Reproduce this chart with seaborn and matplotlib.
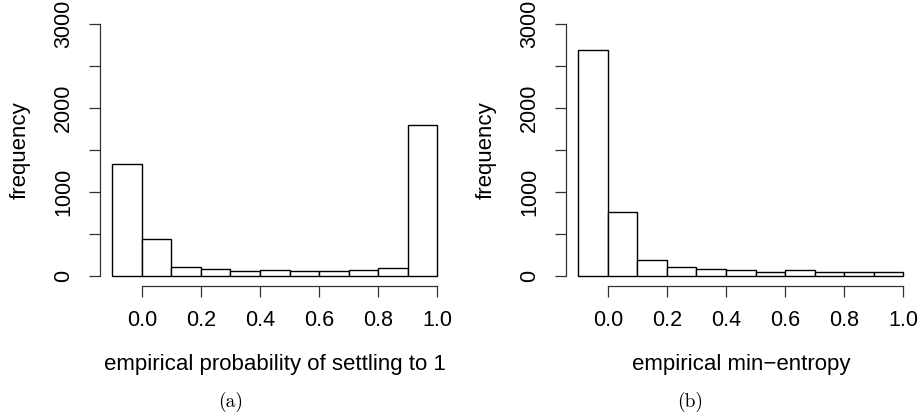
import matplotlib
matplotlib.use("Agg")
import matplotlib.pyplot as plt
import numpy as np
import seaborn as sns

# bin edges shared by both histograms
bin_edges = [-0.1, 0.0, 0.1, 0.2, 0.3, 0.4, 0.5, 0.6, 0.7, 0.8, 0.9, 1.0]

# counts
settle_counts = [1330, 435, 107, 79, 56, 67, 56, 56, 67, 95, 1795]
entropy_counts = [2690, 758, 190, 103, 83, 71, 44, 67, 52, 48, 44]

xlabels = ["empirical probability of settling to 1", "empirical min\u2212entropy"]
captions = ["(a)", "(b)"]
xticks = [0.0, 0.2, 0.4, 0.6, 0.8, 1.0]
yticks_major = [0, 1000, 2000, 3000]
yticks_minor = [500, 1500, 2500]

W, H = 921, 419


def draw_panel(ax, counts, xlabel):
    centers = (np.array(bin_edges[:-1]) + np.array(bin_edges[1:])) / 2
    sns.histplot(x=centers, weights=counts, bins=bin_edges, ax=ax,
                 color="white", edgecolor="black", linewidth=1.0, alpha=1)
    ax.set_xlim(-0.144, 1.044)
    ax.set_ylim(-120, 3120)
    for side in ["top", "right"]:
        ax.spines[side].set_visible(False)
    ax.spines["left"].set_bounds(0, 3000)
    ax.spines["bottom"].set_bounds(0, 1)
    for side in ["left", "bottom"]:
        ax.spines[side].set_color("#333333")
        ax.spines[side].set_linewidth(0.9)
    ax.set_xticks(xticks)
    ax.set_xticklabels([f"{t:.1f}" for t in xticks])
    ax.set_yticks(yticks_major)
    ax.set_yticks(yticks_minor, minor=True)
    ax.tick_params(axis="both", which="both", direction="out", length=8,
                   width=0.9, color="#333333", labelcolor="black",
                   labelsize=15.5, bottom=True, left=True)
    ax.tick_params(axis="x", pad=9)
    ax.tick_params(axis="y", pad=18)
    plt.setp(ax.get_yticklabels(), rotation=90, va="center", ha="center")
    ax.set_xlabel(xlabel, fontsize=16, color="black")
    ax.xaxis.set_label_coords(0.5, -0.29)
    ax.xaxis.label.set_va("center")
    ax.set_ylabel("frequency", fontsize=16, color="black")
    ax.grid(False)


sns.set_style("ticks")
plt.rcParams["font.family"] = ["Liberation Sans", "DejaVu Sans"]
plt.rcParams["text.color"] = "black"

fig = plt.figure(figsize=(W / 100, H / 100), dpi=100)
panels = [(99.5, settle_counts, 20, 231), (565.5, entropy_counts, 486, 690)]
for i, (left, counts, ylab_x, cap_x) in enumerate(panels):
    ax = fig.add_axes([left / W, (H - 286) / H, 350.5 / W, 272 / H])
    draw_panel(ax, counts, xlabels[i])
    ax.yaxis.set_label_coords((ylab_x - left) / 350.5, 0.5)
    ax.yaxis.label.set_va("center")
    fig.text(cap_x / W, 1 - 402 / H, captions[i], family="cmr10", fontsize=14,
             ha="center", va="center")

fig.savefig("out.png", dpi=100)
